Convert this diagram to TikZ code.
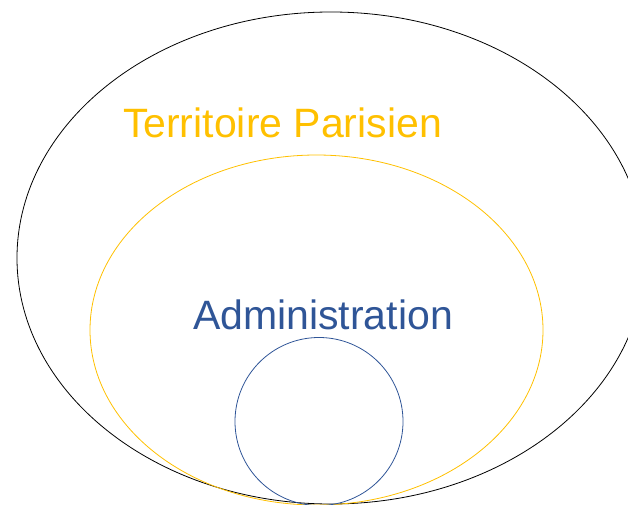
\documentclass[tikz,border=0pt]{standalone}
\usepackage{fontspec}
\setmainfont{Liberation Sans}
\definecolor{terrgold}{HTML}{FFC000}
\definecolor{adminblue}{HTML}{2F5597}

\begin{document}
\begin{tikzpicture}[x=1pt,y=-1pt]
			\useasboundingbox (0,0) rectangle (628,505);
			\clip (0,0) rectangle (628,505);
			
			\coordinate (territ) at (331,258);
			\coordinate (paris) at (316.5,330);
			\coordinate (admin) at (319,421.5);
			
			\draw [black, line width=0.8pt] (territ) ellipse (314pt and 246pt);
			\draw [terrgold, line width=0.8pt] (paris) ellipse (226.5pt and 175pt);
			\draw [adminblue, line width=0.8pt] (admin) circle (84pt);
			
			\node [text=terrgold, anchor=base, inner sep=0pt, font=\fontsize{41}{41}\selectfont] (lbl-territ) at (282.5,138) {Territoire Parisien};
			\node [text=adminblue, anchor=base, inner sep=0pt, font=\fontsize{41}{41}\selectfont] (lbl-admin) at (323,329) {Administration};
		\end{tikzpicture}
\end{document}
